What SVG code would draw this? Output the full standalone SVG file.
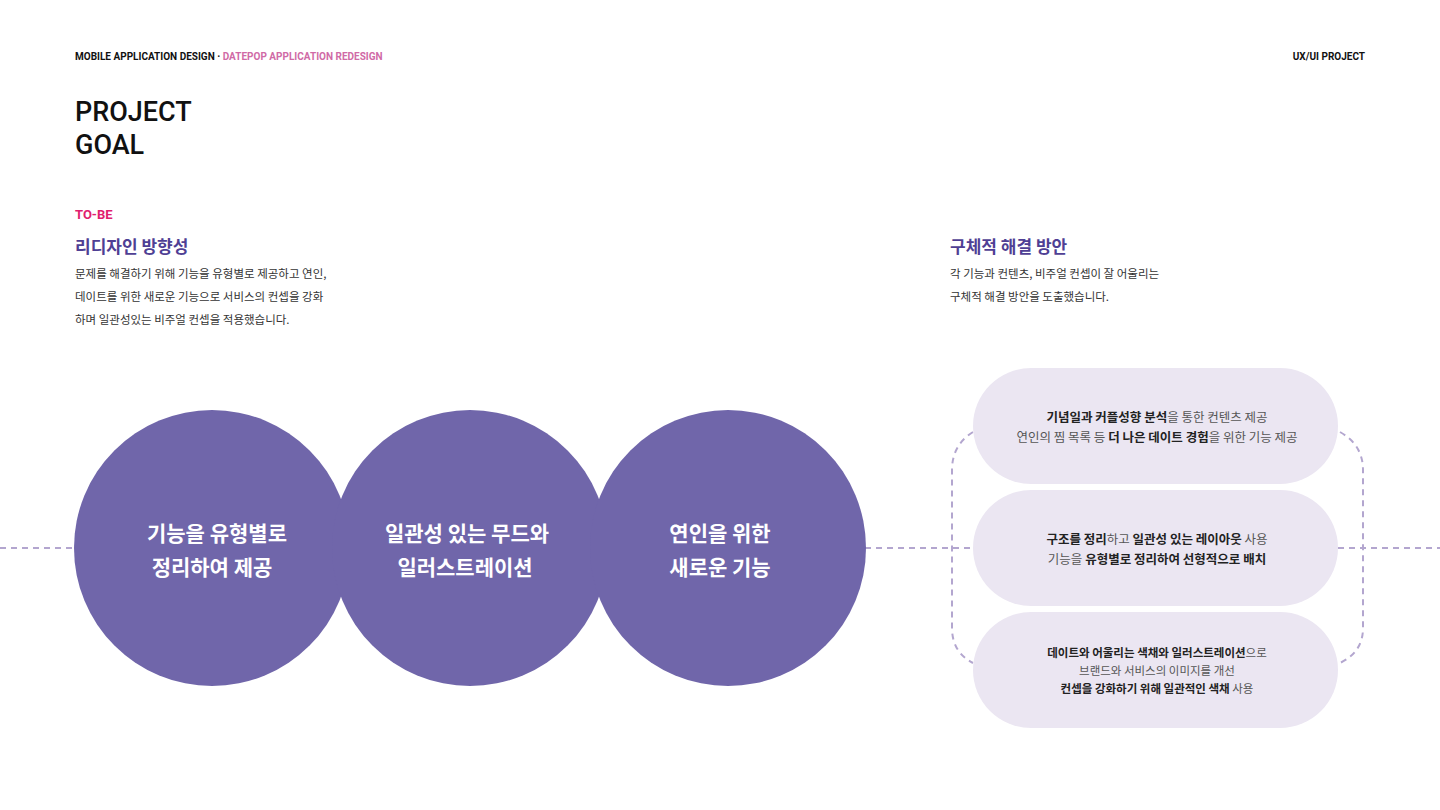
<svg xmlns="http://www.w3.org/2000/svg" width="1440" height="810" viewBox="0 0 1440 810">
<style>
text{font-family:"Noto Sans CJK KR","Noto Sans",sans-serif}
.hdr{font-family:Roboto,"Noto Sans",sans-serif;font-size:10px;font-weight:700}
.body{font-size:11.5px;fill:#333}
.sub{font-size:17px;font-weight:700;fill:#4f3f94}
.ct{font-size:21px;font-weight:700;fill:#fff;text-anchor:middle}
.pt{font-size:12.5px;fill:#555;text-anchor:middle}
.pt tspan.b{font-weight:700;fill:#222}
.circ{fill:#7066aa}
.pill{fill:#ebe6f2}
.dash{fill:none;stroke:#b3a6cf;stroke-width:2;stroke-dasharray:6 5}
</style>
<rect width="1440" height="810" fill="#fff"/>
<text x="75" y="60" class="hdr" fill="#111">MOBILE APPLICATION DESIGN · <tspan fill="#d06aa6">DATEPOP APPLICATION REDESIGN</tspan></text>
<text x="1365" y="60" class="hdr" fill="#111" text-anchor="end">UX/UI PROJECT</text>
<text x="75" y="121" style="font-family:Roboto,sans-serif;font-size:27px;font-weight:500" fill="#111">PROJECT</text>
<text x="75" y="154" style="font-family:Roboto,sans-serif;font-size:27px;font-weight:500" fill="#111">GOAL</text>
<text x="75" y="219" style="font-family:Roboto,sans-serif;font-size:13px;font-weight:700" fill="#e0206e">TO-BE</text>
<text x="75" y="253" class="sub">리디자인 방향성</text>
<text x="75" y="278" class="body">문제를 해결하기 위해 기능을 유형별로 제공하고 연인,</text>
<text x="75" y="301" class="body">데이트를 위한 새로운 기능으로 서비스의 컨셉을 강화</text>
<text x="75" y="324" class="body">하며 일관성있는 비주얼 컨셉을 적용했습니다.</text>
<text x="950" y="253" class="sub">구체적 해결 방안</text>
<text x="950" y="278" class="body">각 기능과 컨텐츠, 비주얼 컨셉이 잘 어울리는</text>
<text x="950" y="301" class="body">구체적 해결 방안을 도출했습니다.</text>
<g id="connectors">
<path class="dash" d="M0 548H75M865 548H973M1338 548H1440"/>
<path class="dash" d="M973 432Q952 445 952 470V628Q952 652 973 663"/>
<path class="dash" d="M1340 432Q1363 445 1363 470V628Q1363 652 1340 663"/>
</g>
<g id="circle1"><circle class="circ" cx="212" cy="548" r="138"/><text class="ct" x="217" y="541">기능을 유형별로</text><text class="ct" x="212" y="575">정리하여 제공</text></g>
<g id="circle2"><circle class="circ" cx="470" cy="548" r="138"/><text class="ct" x="467" y="541">일관성 있는 무드와</text><text class="ct" x="465" y="575">일러스트레이션</text></g>
<g id="circle3"><circle class="circ" cx="728" cy="548" r="138"/><text class="ct" x="720" y="541">연인을 위한</text><text class="ct" x="720" y="575">새로운 기능</text></g>
<g id="pill1"><rect class="pill" x="973" y="368" width="365" height="116" rx="58"/>
<text class="pt" x="1157" y="422"><tspan class="b">기념일과 커플성향 분석</tspan>을 통한 컨텐츠 제공</text>
<text class="pt" x="1157" y="442">연인의 찜 목록 등 <tspan class="b">더 나은 데이트 경험</tspan>을 위한 기능 제공</text></g>
<g id="pill2"><rect class="pill" x="973" y="490" width="365" height="116" rx="58"/>
<text class="pt" x="1157" y="544"><tspan class="b">구조를 정리</tspan>하고 <tspan class="b">일관성 있는 레이아웃</tspan> 사용</text>
<text class="pt" x="1157" y="564">기능을 <tspan class="b">유형별로 정리하여 선형적으로 배치</tspan></text></g>
<g id="pill3"><rect class="pill" x="973" y="612" width="365" height="116" rx="58"/>
<text class="pt" x="1157" y="657" style="font-size:11.5px"><tspan class="b">데이트와 어울리는 색채와 일러스트레이션</tspan>으로</text>
<text class="pt" x="1157" y="675" style="font-size:11.5px">브랜드와 서비스의 이미지를 개선</text>
<text class="pt" x="1157" y="693" style="font-size:11.5px"><tspan class="b">컨셉을 강화하기 위해 일관적인 색채</tspan> 사용</text></g>
</svg>
